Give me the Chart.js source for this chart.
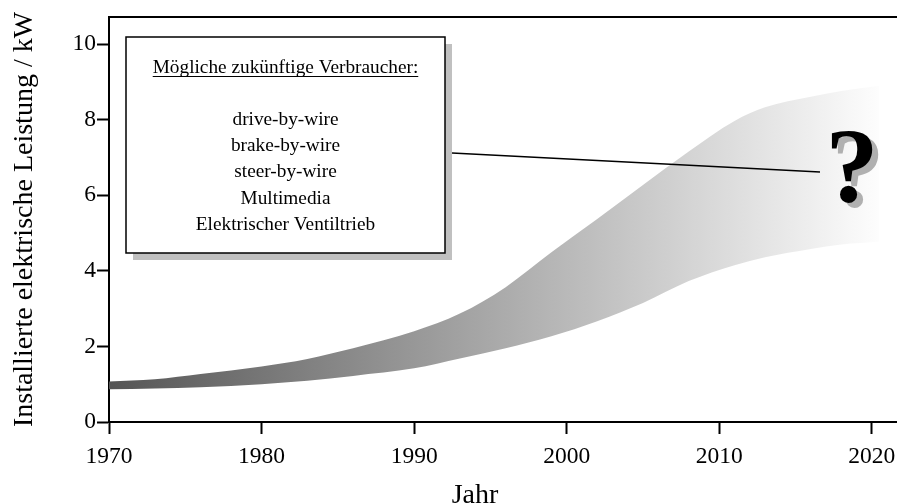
<!DOCTYPE html>
<html><head><meta charset="utf-8">
<script src="https://cdn.jsdelivr.net/npm/chart.js@4"></script>
<style>html,body{margin:0;padding:0;background:#fff;overflow:hidden}</style>
</head><body>
<canvas id="c" width="897" height="504"></canvas>
<script>
// ---- data ----
const years = [1970, 1973, 1976, 1980, 1983, 1986, 1990, 1993, 1996, 1999, 2002, 2005, 2008, 2011, 2013, 2016, 2018, 2020.5];
const upper = [1.07, 1.13, 1.27, 1.47, 1.67, 1.95, 2.40, 2.87, 3.57, 4.49, 5.37, 6.27, 7.16, 7.97, 8.33, 8.61, 8.76, 8.90];
const lower = [0.87, 0.89, 0.92, 1.00, 1.09, 1.22, 1.42, 1.68, 1.95, 2.27, 2.67, 3.15, 3.73, 4.15, 4.36, 4.58, 4.70, 4.77];
const xTicks = [1970, 1980, 1990, 2000, 2010, 2020];
const yTicks = [0, 2, 4, 6, 8, 10];
const xTitle = 'Jahr';
const yTitle = 'Installierte elektrische Leistung / kW';
const boxTitle = 'Mögliche zukünftige Verbraucher:';
const boxItems = ['drive-by-wire', 'brake-by-wire', 'steer-by-wire', 'Multimedia', 'Elektrischer Ventiltrieb'];
const mark = '?';

const SERIF = '"Liberation Serif", "Times New Roman", serif';

function gradientFill(context) {
  const chart = context.chart;
  const a = chart.chartArea;
  if (!a) return '#999';
  const xs = chart.scales.x;
  const g = chart.ctx.createLinearGradient(xs.getPixelForValue(1970), 0, xs.getPixelForValue(2021), 0);
  g.addColorStop(0, '#555555');
  g.addColorStop(1, '#ffffff');
  return g;
}

const annot = {
  id: 'annot',
  afterDatasetsDraw(chart) {
    const { ctx, chartArea: a } = chart;
    ctx.save();
    // top frame line
    ctx.strokeStyle = '#000';
    ctx.lineWidth = 2;
    ctx.beginPath(); ctx.moveTo(a.left, a.top); ctx.lineTo(a.right + 2, a.top); ctx.stroke();

    // box with shadow
    const bx = 126, by = 37, bw = 319, bh = 216;
    ctx.fillStyle = '#c0c0c0';
    ctx.fillRect(bx + 7, by + 7, bw, bh);
    ctx.fillStyle = '#fff';
    ctx.fillRect(bx, by, bw, bh);
    ctx.lineWidth = 1.5;
    ctx.strokeStyle = '#000';
    ctx.strokeRect(bx, by, bw, bh);

    const cx = bx + bw / 2;
    ctx.fillStyle = '#000';
    ctx.textAlign = 'center';
    ctx.textBaseline = 'alphabetic';
    ctx.font = '19.3px ' + SERIF;
    ctx.fillText(boxTitle, cx, 73);
    const tw = ctx.measureText(boxTitle).width;
    ctx.lineWidth = 1;
    ctx.strokeStyle = '#000';
    ctx.beginPath(); ctx.moveTo(cx - tw / 2, 76.5); ctx.lineTo(cx + tw / 2, 76.5); ctx.stroke();
    boxItems.forEach((t, i) => ctx.fillText(t, cx, 125 + i * 26.2));

    // connector line
    ctx.strokeStyle = '#000';
    ctx.lineWidth = 1.5;
    ctx.beginPath(); ctx.moveTo(452, 153); ctx.lineTo(820, 172); ctx.stroke();

    // question mark with shadow
    ctx.font = 'bold 106px ' + SERIF;
    ctx.fillStyle = '#b0b0b0';
    ctx.fillText(mark, 858, 207);
    ctx.fillStyle = '#000';
    ctx.fillText(mark, 852, 202);

    // x axis title
    ctx.font = '28px ' + SERIF;
    ctx.fillStyle = '#000';
    ctx.fillText(xTitle, 475, 503);
    ctx.restore();
  }
};

new Chart(document.getElementById('c'), {
  type: 'line',
  data: {
    datasets: [
      {
        label: 'min',
        data: years.map((x, i) => ({ x, y: lower[i] })),
        borderColor: 'transparent', borderWidth: 0, pointRadius: 0,
        cubicInterpolationMode: 'monotone', fill: false
      },
      {
        label: 'max',
        data: years.map((x, i) => ({ x, y: upper[i] })),
        borderColor: 'transparent', borderWidth: 0, pointRadius: 0,
        cubicInterpolationMode: 'monotone', fill: '-1',
        backgroundColor: gradientFill
      }
    ]
  },
  options: {
    responsive: false,
    devicePixelRatio: 1,
    animation: false,
    layout: { padding: { top: 17, right: 0, left: 0, bottom: 0 } },
    plugins: { legend: { display: false }, tooltip: { enabled: false }, title: { display: false } },
    scales: {
      x: {
        type: 'linear', min: 1970, max: 2021.65,
        afterBuildTicks: s => { s.ticks = xTicks.map(v => ({ value: v })); },
        afterFit: s => { s.height = 82; s.paddingLeft = 0; s.paddingRight = 0; },
        ticks: { color: '#000', font: { family: SERIF, size: 23.5 }, padding: 9, maxRotation: 0, autoSkip: false,
                 callback: v => String(v) },
        grid: { display: true, drawOnChartArea: false, drawTicks: true, tickLength: 12, tickWidth: 2, tickColor: '#000' },
        border: { display: true, color: '#000', width: 2 }
      },
      y: {
        type: 'linear', min: 0, max: 10.72,
        afterBuildTicks: s => { s.ticks = yTicks.map(v => ({ value: v })); },
        afterFit: s => { s.width = 109; s.paddingTop = 0; s.paddingBottom = 0; },
        ticks: { color: '#000', font: { family: SERIF, size: 23.5 }, padding: 1, autoSkip: false,
                 callback: v => String(v) },
        grid: { display: true, drawOnChartArea: false, drawTicks: true, tickLength: 12, tickWidth: 2, tickColor: '#000' },
        border: { display: true, color: '#000', width: 2 },
        title: { display: true, text: yTitle, color: '#000', font: { family: SERIF, size: 28 }, padding: { top: 8, bottom: 0 } }
      }
    }
  },
  plugins: [annot]
});
</script>
</body></html>
